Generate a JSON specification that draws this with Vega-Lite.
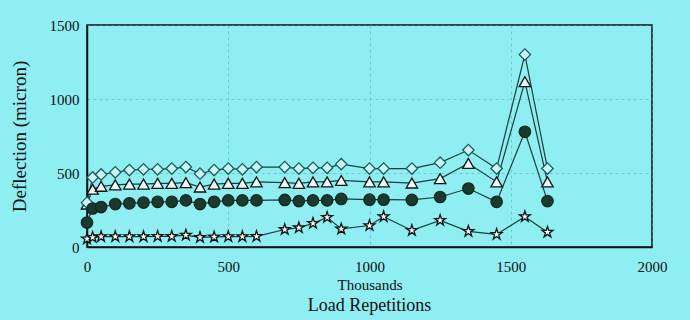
{
  "$schema": "https://vega.github.io/schema/vega-lite/v6.json",
  "width": 565,
  "height": 222,
  "autosize": {"type": "none"},
  "padding": {"left": 87, "top": 25, "right": 38, "bottom": 73},
  "background": "#8eeef1",
  "config": {
    "view": {"stroke": "#111111", "strokeWidth": 1.5, "fill": "#8eeef1"},
    "font": "Liberation Serif"
  },
  "title": {
    "text": "Load Repetitions",
    "orient": "bottom",
    "font": "Liberation Serif",
    "fontSize": 18,
    "fontWeight": "normal",
    "color": "#111111",
    "offset": 5
  },
  "data": {
    "values": [
      {"load": 0, "Diamond": 300, "Triangle": 290, "Circle": 165, "Star": 55},
      {"load": 20, "Diamond": 470, "Triangle": 390, "Circle": 260, "Star": 65},
      {"load": 50, "Diamond": 490, "Triangle": 410, "Circle": 270, "Star": 70},
      {"load": 100, "Diamond": 505, "Triangle": 420, "Circle": 290, "Star": 70},
      {"load": 150, "Diamond": 520, "Triangle": 425, "Circle": 295, "Star": 70},
      {"load": 200, "Diamond": 525, "Triangle": 425, "Circle": 300, "Star": 70},
      {"load": 250, "Diamond": 525, "Triangle": 430, "Circle": 305, "Star": 72},
      {"load": 300, "Diamond": 530, "Triangle": 430, "Circle": 305, "Star": 72},
      {"load": 350, "Diamond": 540, "Triangle": 435, "Circle": 315, "Star": 80},
      {"load": 400, "Diamond": 495, "Triangle": 405, "Circle": 290, "Star": 65},
      {"load": 450, "Diamond": 520, "Triangle": 425, "Circle": 305, "Star": 68},
      {"load": 500, "Diamond": 530, "Triangle": 430, "Circle": 315, "Star": 70},
      {"load": 550, "Diamond": 525, "Triangle": 430, "Circle": 315, "Star": 70},
      {"load": 600, "Diamond": 540, "Triangle": 440, "Circle": 315, "Star": 72},
      {"load": 700, "Diamond": 540, "Triangle": 435, "Circle": 318, "Star": 118},
      {"load": 750, "Diamond": 530, "Triangle": 430, "Circle": 310, "Star": 130},
      {"load": 800, "Diamond": 535, "Triangle": 440, "Circle": 315, "Star": 160},
      {"load": 850, "Diamond": 535, "Triangle": 440, "Circle": 315, "Star": 200},
      {"load": 900, "Diamond": 560, "Triangle": 450, "Circle": 325, "Star": 122},
      {"load": 1000, "Diamond": 530, "Triangle": 440, "Circle": 320, "Star": 145},
      {"load": 1050, "Diamond": 530, "Triangle": 440, "Circle": 320, "Star": 205},
      {"load": 1150, "Diamond": 530, "Triangle": 432, "Circle": 318, "Star": 112},
      {"load": 1250, "Diamond": 570, "Triangle": 462, "Circle": 338, "Star": 180},
      {"load": 1350, "Diamond": 655, "Triangle": 565, "Circle": 395, "Star": 106},
      {"load": 1450, "Diamond": 530, "Triangle": 440, "Circle": 305, "Star": 85},
      {"load": 1550, "Diamond": 1300, "Triangle": 1117, "Circle": 778, "Star": 205},
      {"load": 1630, "Diamond": 530, "Triangle": 440, "Circle": 310, "Star": 100}
    ]
  },
  "transform": [
    {"fold": ["Star", "Circle", "Triangle", "Diamond"], "as": ["series", "deflection"]}
  ],
  "encoding": {
    "x": {
      "field": "load",
      "type": "quantitative",
      "scale": {"domain": [0, 2000], "nice": false},
      "axis": {
        "values": [0, 500, 1000, 1500, 2000],
        "format": "d",
        "labelFlush": false,
        "title": "Thousands",
        "titleFont": "Liberation Serif",
        "titleFontSize": 15,
        "titleFontWeight": "normal",
        "titleColor": "#111111",
        "titlePadding": 3,
        "labelFont": "Liberation Serif",
        "labelFontSize": 15,
        "labelColor": "#111111",
        "labelPadding": 12,
        "ticks": false,
        "domainColor": "#111111",
        "domainWidth": 1.5,
        "grid": true,
        "gridColor": "#4f9ea3",
        "gridDash": [3, 3],
        "gridOpacity": 0.45
      }
    },
    "y": {
      "field": "deflection",
      "type": "quantitative",
      "scale": {"domain": [0, 1500], "nice": false},
      "axis": {
        "values": [0, 500, 1000, 1500],
        "format": "d",
        "labelFlush": false,
        "title": "Deflection (micron)",
        "titleFont": "Liberation Serif",
        "titleFontSize": 19,
        "titleFontWeight": "normal",
        "titleColor": "#111111",
        "titleX": -68,
        "titleY": 111,
        "titleAlign": "center",
        "titleBaseline": "middle",
        "titleAngle": -90,
        "labelFont": "Liberation Serif",
        "labelFontSize": 15,
        "labelColor": "#111111",
        "labelPadding": 8,
        "ticks": false,
        "domainColor": "#111111",
        "domainWidth": 1.5,
        "grid": true,
        "gridColor": "#4f9ea3",
        "gridDash": [3, 3],
        "gridOpacity": 0.45
      }
    },
    "detail": {"field": "series", "type": "nominal"}
  },
  "layer": [
    {
      "mark": {"type": "line", "stroke": "#1a3f3b", "strokeWidth": 1.2},
      "encoding": {}
    },
    {
      "mark": {"type": "point", "strokeWidth": 1.3, "opacity": 1, "size": 130},
      "encoding": {
        "shape": {
          "field": "series",
          "type": "nominal",
          "legend": null,
          "scale": {
            "domain": ["Diamond", "Triangle", "Circle", "Star"],
            "range": ["diamond", "triangle-up", "circle", "M0,-1L0.2245,-0.309L0.951,-0.309L0.3633,0.118L0.5878,0.809L0,0.382L-0.5878,0.809L-0.3633,0.118L-0.951,-0.309L-0.2245,-0.309Z"]
          }
        },
        "fill": {
          "field": "series",
          "type": "nominal",
          "legend": null,
          "scale": {
            "domain": ["Diamond", "Triangle", "Circle", "Star"],
            "range": ["#c8f6f6", "#e6fbf8", "#1b3a2e", "#f2fbfa"]
          }
        },
        "stroke": {
          "field": "series",
          "type": "nominal",
          "legend": null,
          "scale": {
            "domain": ["Diamond", "Triangle", "Circle", "Star"],
            "range": ["#1e5c58", "#111111", "#10261e", "#111111"]
          }
        }
      }
    }
  ]
}
